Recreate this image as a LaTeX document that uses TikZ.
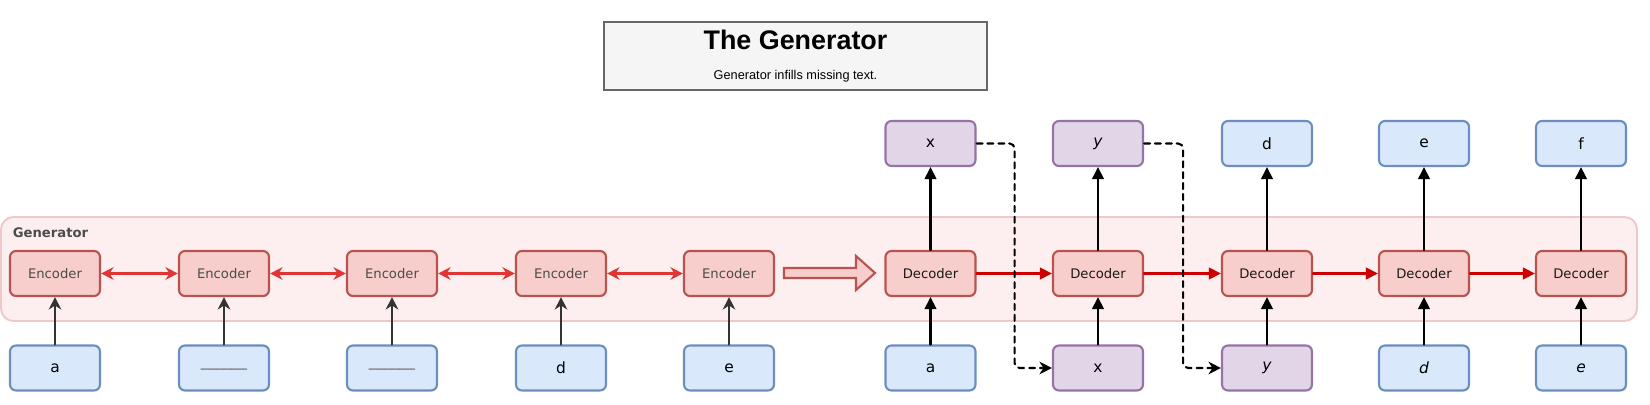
\documentclass[tikz,border=0pt]{standalone}
\usepackage{fontspec}
\setmainfont{DejaVu Sans}
\newfontfamily\headfont{Liberation Sans}
\usepackage{tikz}
\usetikzlibrary{arrows.meta}
\usepackage{xcolor}
\definecolor{tokfill}{HTML}{DAE8FC}
\definecolor{tokline}{HTML}{6C8EBF}
\definecolor{genfill}{HTML}{E1D5E7}
\definecolor{genline}{HTML}{9673A6}
\definecolor{encfill}{HTML}{F8CECC}
\definecolor{encline}{HTML}{B85450}
\definecolor{panelfill}{HTML}{FDEFEF}
\definecolor{panelline}{HTML}{F0C8C8}
\definecolor{linkred}{HTML}{E03535}
\definecolor{stepred}{HTML}{CC0000}

\begin{document}
\begin{tikzpicture}[x=0.02cm,y=-0.02cm,>={Stealth[length=2.5mm,width=2.5mm]},line cap=round,
  box/.style={rounded corners=0.12cm,minimum width=1.8cm,minimum height=0.9cm,line width=1.2pt,inner sep=0pt},
  enc/.style={box,draw=encline,fill=encfill,text=black!70,font=\fontsize{7.5}{9}\selectfont},
  dec/.style={box,draw=encline,fill=encfill,text=black!90,font=\fontsize{7.5}{9}\selectfont},
  tok/.style={box,draw=tokline,fill=tokfill,font=\fontsize{8.8}{10}\selectfont},
  gen/.style={box,draw=genline,fill=genfill,font=\fontsize{8.8}{10}\selectfont},
  link/.style={<->,linkred,line width=1.4pt},
  flow/.style={-{Triangle[length=2.4mm,width=2.3mm]},stepred,line width=1.4pt},
  feed/.style={->,black!80,line width=1.4pt},
  lift/.style={-{Triangle[length=2.4mm,width=2.3mm]},black,line width=1.4pt},
  carry/.style={->,black,line width=1.2pt,dash pattern=on 3.4pt off 2.8pt,rounded corners=0.1cm}]
\useasboundingbox (0,0) rectangle (1650,405);

% title
\node[draw=black!60,fill=black!4,line width=1.3pt,minimum width=7.66cm,minimum height=1.36cm] (title) at (795.5,56) {};
\node[font=\headfont\bfseries\fontsize{15.3}{17}\selectfont] (head) at (795.5,40) {The Generator};
\node[font=\headfont\fontsize{7.25}{9}\selectfont] (sub) at (795.5,76) {Generator infills missing text.};

% panel
\draw[panelline,fill=panelfill,line width=1.1pt,rounded corners=0.25cm] (1,217) rectangle (1637,321);
\node[anchor=west,inner sep=0pt,text=black!70,font=\bfseries\fontsize{7.5}{9}\selectfont] (panel) at (12.5,233) {Generator};

% encoders
\node[enc] (e1) at (55,273.5) {Encoder};
\node[enc] (e2) at (224,273.5) {Encoder};
\node[enc] (e3) at (392,273.5) {Encoder};
\node[enc] (e4) at (561,273.5) {Encoder};
\node[enc] (e5) at (729,273.5) {Encoder};
\draw[link] (e1) -- (e2);
\draw[link] (e2) -- (e3);
\draw[link] (e3) -- (e4);
\draw[link] (e4) -- (e5);

\node[tok] (i1) at (55,368) {a};
\node[tok,text=black!60] (i2) at (224,368) {\_\_\_\_\_\_};
\node[tok,text=black!60] (i3) at (392,368) {\_\_\_\_\_\_};
\node[tok] (i4) at (561,368) {d};
\node[tok] (i5) at (729,368) {e};
\draw[feed] (i1) -- (e1);
\draw[feed] (i2) -- (e2);
\draw[feed] (i3) -- (e3);
\draw[feed] (i4) -- (e4);
\draw[feed] (i5) -- (e5);

% hand-over
\draw[encline,fill=encfill,line width=1.2pt] (784,268) -- (856,268) -- (856,256) -- (875,273) -- (856,290) -- (856,278) -- (784,278) -- cycle;

% decoders
\node[dec] (d1) at (930.5,273.5) {Decoder};
\node[dec] (d2) at (1098,273.5) {Decoder};
\node[dec] (d3) at (1267,273.5) {Decoder};
\node[dec] (d4) at (1424,273.5) {Decoder};
\node[dec] (d5) at (1581,273.5) {Decoder};
\draw[flow] (d1) -- (d2);
\draw[flow] (d2) -- (d3);
\draw[flow] (d3) -- (d4);
\draw[flow] (d4) -- (d5);

\node[gen] (o1) at (930.5,143.5) {x};
\node[gen] (o2) at (1098,143.5) {\textit{y}};
\node[tok] (o3) at (1267,143.5) {d};
\node[tok] (o4) at (1424,143.5) {e};
\node[tok] (o5) at (1581,143.5) {f};

\node[tok] (j1) at (930.5,368) {a};
\node[gen] (j2) at (1098,368) {x};
\node[gen] (j3) at (1267,368) {\textit{y}};
\node[tok] (j4) at (1424,368) {\textit{d}};
\node[tok] (j5) at (1581,368) {\textit{e}};

\draw[lift] (j1) -- (d1);
\draw[lift] (j2) -- (d2);
\draw[lift] (j3) -- (d3);
\draw[lift] (j4) -- (d4);
\draw[lift] (j5) -- (d5);
\draw[lift] (d1) -- (o1);
\draw[lift] (d2) -- (o2);
\draw[lift] (d3) -- (o3);
\draw[lift] (d4) -- (o4);
\draw[lift] (d5) -- (o5);

% fed back
\draw[carry] (o1.east) -- ++(38,0) |- (j2.west);
\draw[carry] (o2.east) -- ++(39,0) |- (j3.west);
\end{tikzpicture}
\end{document}
